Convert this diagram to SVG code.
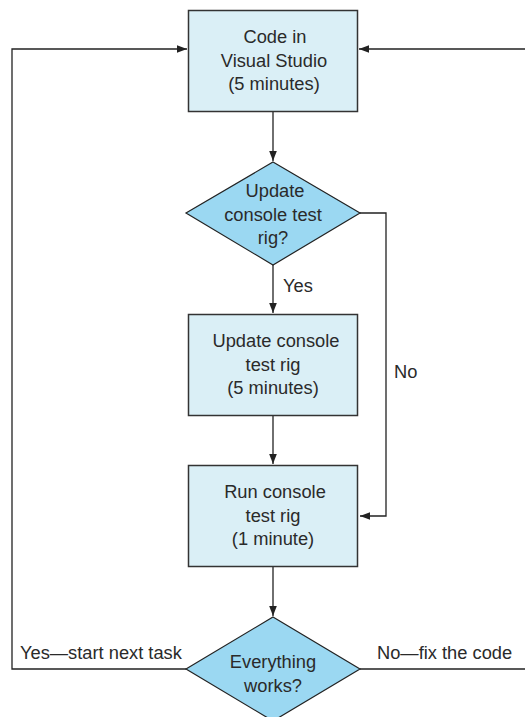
<svg xmlns="http://www.w3.org/2000/svg" width="525" height="717" viewBox="0 0 525 717">
<defs>
<style>
.box{fill:#daeff6;stroke:#333;stroke-width:1.5}
.dia{fill:#9bd8f2;stroke:#222;stroke-width:1.2}
.ln{fill:none;stroke:#222;stroke-width:1.3}
text{font-family:"Liberation Sans",Arial,sans-serif;font-size:18.3px;fill:#2a2a2a}
.c{text-anchor:middle}
</style>
<marker id="ah" viewBox="0 0 10 10" refX="10" refY="5" markerWidth="10" markerHeight="10" markerUnits="userSpaceOnUse" orient="auto">
<path d="M0,1.2 L10,5 L0,8.8 Z" fill="#222"/>
</marker>
</defs>
<rect width="525" height="717" fill="#fff"/>
<g id="connectors">
<path class="ln" d="M273,112 V161" marker-end="url(#ah)"/>
<path class="ln" d="M273,265 V313" marker-end="url(#ah)"/>
<path class="ln" d="M273,416 V464" marker-end="url(#ah)"/>
<path class="ln" d="M273,567 V616" marker-end="url(#ah)"/>
<path class="ln" d="M360,213 H386 V516 H360" marker-end="url(#ah)"/>
<path class="ln" d="M186,669 H12 V49 H187" marker-end="url(#ah)"/>
<path class="ln" d="M360,669 H525 M525,49 H359" marker-end="url(#ah)"/>
<text x="283" y="292">Yes</text>
<text x="394" y="378">No</text>
<text x="20" y="659">Yes—start next task</text>
<text x="377" y="659">No—fix the code</text>
</g>
<g id="code">
<rect class="box" x="188.5" y="10.5" width="169" height="101"/>
<text class="c" x="275" y="42.5">Code in</text>
<text class="c" x="274" y="66.5">Visual Studio</text>
<text class="c" x="274" y="89.5">(5 minutes)</text>
</g>
<g id="decision-update">
<polygon class="dia" points="273,162 360,213 273,265 186,213"/>
<text class="c" x="275" y="197">Update</text>
<text class="c" x="273" y="221">console test</text>
<text class="c" x="273" y="244">rig?</text>
</g>
<g id="update">
<rect class="box" x="188.5" y="314.5" width="169" height="101"/>
<text class="c" x="276" y="347">Update console</text>
<text class="c" x="273" y="371">test rig</text>
<text class="c" x="273" y="394">(5 minutes)</text>
</g>
<g id="run">
<rect class="box" x="188.5" y="465.5" width="169" height="101"/>
<text class="c" x="275" y="498">Run console</text>
<text class="c" x="273" y="522">test rig</text>
<text class="c" x="273" y="545">(1 minute)</text>
</g>
<g id="decision-works">
<polygon class="dia" points="273,617 360,669 273,721 186,669"/>
<text class="c" x="273" y="668">Everything</text>
<text class="c" x="273" y="692">works?</text>
</g>
</svg>
